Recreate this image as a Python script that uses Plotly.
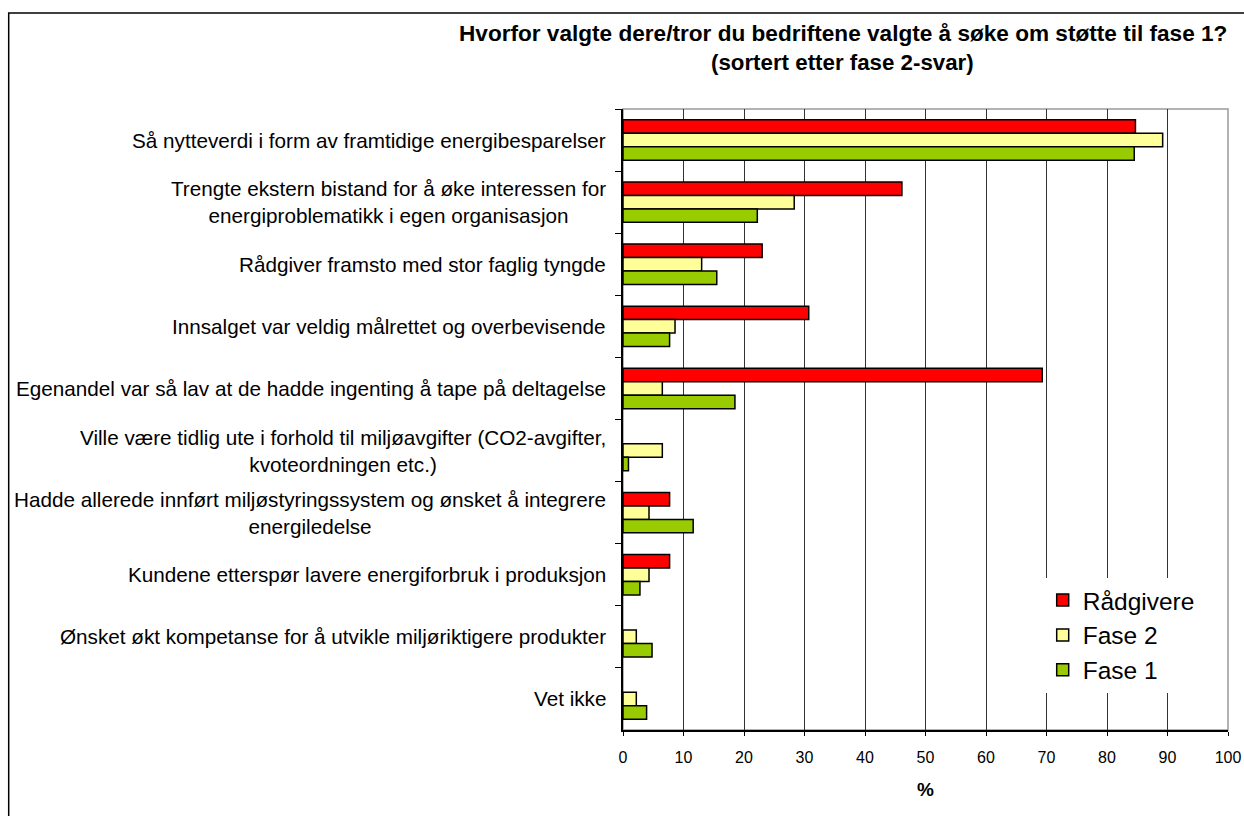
import plotly.graph_objects as go

categories = [
    "Så nytteverdi i form av framtidige energibesparelser",
    "Trengte ekstern bistand for å øke interessen for<br>energiproblematikk i egen organisasjon",
    "Rådgiver framsto med stor faglig tyngde",
    "Innsalget var veldig målrettet og overbevisende",
    "Egenandel var så lav at de hadde ingenting å tape på deltagelse",
    "Ville være tidlig ute i forhold til miljøavgifter (CO2-avgifter,<br>kvoteordningen etc.)",
    "Hadde allerede innført miljøstyringssystem og ønsket å integrere<br>energiledelse",
    "Kundene etterspør lavere energiforbruk i produksjon",
    "Ønsket økt kompetanse for å utvikle miljøriktigere produkter",
    "Vet ikke",
]
cat_ids = [f"c{i}" for i in range(len(categories))]

radgivere = [84.7, 46.1, 23.0, 30.7, 69.3, None, 7.7, 7.7, None, None]
fase2 = [89.2, 28.3, 13.0, 8.6, 6.5, 6.5, 4.3, 4.3, 2.2, 2.2]
fase1 = [84.5, 22.2, 15.5, 7.7, 18.5, 0.9, 11.6, 2.8, 4.8, 3.9]

x_ticks = list(range(0, 101, 10))

series = [
    ("Rådgivere", radgivere, "#FF0000"),
    ("Fase 2", fase2, "#FFFF99"),
    ("Fase 1", fase1, "#99CC00"),
]

FONT = "Liberation Sans, Arial, sans-serif"

fig = go.Figure()
for name, vals, color in series:
    fig.add_trace(go.Bar(
        name=name, y=cat_ids, x=vals, orientation="h",
        marker=dict(color=color, line=dict(color="#000000", width=1.5)),
    ))

annotations = []
for cid, label in zip(cat_ids, categories):
    annotations.append(dict(
        x=0, xref="paper", y=cid, yref="y", text=label, showarrow=False,
        xanchor="right", yanchor="middle", align="center", xshift=-15,
        font=dict(family=FONT, size=20.7, color="#000000"),
    ))

TX = (843 - 623.3) / 605
annotations.append(dict(
    x=TX, xref="paper", y=(730.5 - 33) / 621.5, yref="paper",
    text="<b>Hvorfor valgte dere/tror du bedriftene valgte å søke om støtte til fase 1?</b>",
    showarrow=False, xanchor="center", yanchor="middle",
    font=dict(family=FONT, size=22.6, color="#000000"),
))
annotations.append(dict(
    x=TX, xref="paper", y=(730.5 - 62) / 621.5, yref="paper",
    text="<b>(sortert etter fase 2-svar)</b>",
    showarrow=False, xanchor="center", yanchor="middle",
    font=dict(family=FONT, size=22.3, color="#000000"),
))
annotations.append(dict(
    x=0.5, xref="paper", y=(730.5 - 790) / 621.5, yref="paper",
    text="<b>%</b>", showarrow=False, xanchor="center", yanchor="middle",
    font=dict(family=FONT, size=19, color="#000000"),
))

shapes = [
    dict(type="rect", xref="paper", yref="paper",
         x0=(9 - 623.3) / 605, x1=1.2, y0=-0.4, y1=(730.5 - 13) / 621.5,
         line=dict(color="#000000", width=1.5), layer="below"),
    dict(type="rect", xref="paper", yref="paper", x0=0, x1=1, y0=0, y1=1,
         line=dict(color="#999999", width=1.5), layer="below"),
]

fig.update_layout(
    width=1244, height=816, autosize=False,
    margin=dict(l=623, r=16, t=109, b=86),
    paper_bgcolor="#FFFFFF", plot_bgcolor="#FFFFFF",
    barmode="group", bargap=0.35, bargroupgap=0,
    font=dict(family=FONT, color="#000000"),
    showlegend=True,
    legend=dict(
        x=(1043 - 623.3) / 605, y=(730.5 - 578) / 621.5,
        xanchor="left", yanchor="top", bgcolor="#FFFFFF",
        font=dict(family=FONT, size=24.5, color="#000000"),
        traceorder="normal", tracegroupgap=0,
    ),
    annotations=annotations,
    shapes=shapes,
)
fig.update_xaxes(
    range=[0, 100], tickvals=x_ticks, ticktext=[str(v) for v in x_ticks],
    showgrid=True, gridcolor="#333333", gridwidth=1,
    showline=True, linecolor="#000000", linewidth=1.5,
    ticks="outside", ticklen=4, tickcolor="#000000",
    tickfont=dict(family=FONT, size=16, color="#000000"),
    ticklabelstandoff=8, zeroline=False, fixedrange=True, automargin=False,
)
fig.update_yaxes(
    categoryorder="array", categoryarray=cat_ids, autorange="reversed",
    showticklabels=False, showgrid=False,
    showline=True, linecolor="#000000", linewidth=1.5,
    ticks="outside", ticklen=6, tickcolor="#000000", tickson="boundaries",
    zeroline=False, fixedrange=True, automargin=False,
)

fig.write_html(
    "out.html",
    config={"displayModeBar": False, "responsive": False},
    post_script="document.body.style.margin='0';document.body.style.overflow='hidden';",
)
